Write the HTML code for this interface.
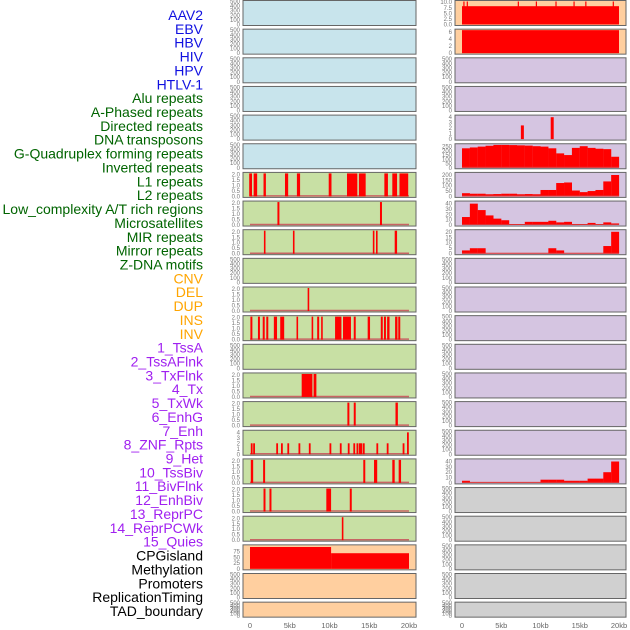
<!DOCTYPE html>
<html><head><meta charset="utf-8"><style>
html,body{margin:0;padding:0;background:#fff;}
svg{display:block;font-family:"Liberation Sans",sans-serif;}
</style></head><body>
<svg id="c" width="630" height="630" viewBox="0 0 630 630"></svg>
<script>
const labels=["AAV2","EBV","HBV","HIV","HPV","HTLV-1","Alu repeats","A-Phased repeats","Directed repeats","DNA transposons","G-Quadruplex forming repeats","Inverted repeats","L1 repeats","L2 repeats","Low_complexity A/T rich regions","Microsatellites","MIR repeats","Mirror repeats","Z-DNA motifs","CNV","DEL","DUP","INS","INV","1_TssA","2_TssAFlnk","3_TxFlnk","4_Tx","5_TxWk","6_EnhG","7_Enh","8_ZNF_Rpts","9_Het","10_TssBiv","11_BivFlnk","12_EnhBiv","13_ReprPC","14_ReprPCWk","15_Quies","CPGisland","Methylation","Promoters","ReplicationTiming","TAD_boundary"];
const labelGroups=[6,13,5,15,5];
const groupColors=["#1010e0","#006400","#ffa500","#a020f0","#000000"];
const xTicks=[0,5,10,15,20];
const xTickLabels=["0","5kb","10kb","15kb","20kb"];
const leftIntervals={
6:[[-0.1,0.25],[0.46,0.9],[1.7,2.0],[4.4,4.8],[5.9,6.3],[9.9,10.25],[12.2,13.5],[13.7,14.55],[16.9,17.35],[17.9,18.5],[18.8,19.9]],
7:[[3.45,3.7],[16.35,16.6]],
8:[[1.75,1.95],[5.4,5.6],[15.45,15.65],[15.85,16.05],[18.2,18.5]],
10:[[7.25,7.45]],
11:[[0.05,0.3],[1.0,1.25],[1.6,1.85],[2.05,2.3],[3.0,3.4],[3.8,4.3],[5.85,6.05],[7.75,7.95],[8.45,8.7],[8.95,9.15],[10.7,11.5],[11.7,12.7],[13.05,13.3],[14.8,15.1],[16.45,16.7],[16.85,17.1],[17.25,17.55],[18.25,18.55],[18.65,18.9]],
13:[[6.5,7.85],[8.0,8.35]],
14:[[12.25,12.5],[13.05,13.3],[18.3,18.6]],
16:[[0.1,0.4],[1.65,1.9],[14.25,14.5],[15.6,16.0],[17.9,18.2],[18.7,19.0]],
17:[[1.7,1.95],[2.45,2.7],[9.6,10.2],[12.55,12.8]],
18:[[11.55,11.75]]};
const row15Pos=[0.1,0.4,3.3,3.9,4.7,6.1,7.4,10.0,11.3,12.3,13.0,13.4,13.7,13.9,14.2,15.9,17.2,19.2,19.75];
const row15Val=[2,2,2,2,2,2,2,2,2,2,2,2,2,2,2,2,2,2,4];
const cpgStarts=[0,10.2];
const cpgEnds=[10.2,20];
const cpgVals=[95,68];
const gquadBins=[230,240,250,260,270,270,268,265,262,255,250,230,170,150,235,255,235,225,220,130,70,20];
const l1Bins=[30,25,25,20,22,25,25,20,22,20,60,60,125,130,55,40,50,60,140,200];
const lowBins=[15,40,28,18,12,9,0,0,6,6,6,8,5,6,2,0,4,0,5,3];
const microBins=[3,5,5,0,0,0,0,0,0,0,0,5,3,0,0,0,0,0,7,20];
const tssBivBins=[4,0,0,0,0,0,0,0,0,0,6,6,6,4,4,4,8,8,20,40];
const aavSpikes=[0.17,0.6,7.1,9.4,11.9,14.2,15.7,19.2];
const directedSpikes=[7.5,11.3];
const directedVals=[2.5,4];

const svg=document.getElementById('c');const NS="http://www.w3.org/2000/svg";
function el(t,a,p){const e=document.createElementNS(NS,t);for(const k in a)e.setAttribute(k,a[k]);(p||svg).appendChild(e);return e;}
let idx=0;
labelGroups.forEach((n,g)=>{for(let i=0;i<n;i++){if(idx>=labels.length)return;const t=el('text',{x:203,y:20+idx*13.86,'text-anchor':'end','font-size':14,fill:groupColors[g]});t.textContent=labels[idx];

idx++;}});
const LX0=243,LX1=416,RX0=455,RX1=626;
const lx=kb=>250+kb*7.95, rx=kb=>462+kb*7.85;
function rowTop(i){return 0.5+i*28.65;}
function rowH(i){return i==21?15:25;}
const leftBg=i=>i<6?"#c8e4ec":(i<19?"#c8e0a4":"#ffcf9f");
const rightBg=i=>i<2?"#ffcf9f":(i<17?"#d5c5e1":"#d0d0d0");
function ticks(x,top,h,max,vals,fmt){vals.forEach(v=>{const y=top+h-1-(v/max)*(h-2);const t=el('text',{x:x-3,y:y+2,'text-anchor':'end','font-size':6,fill:'#777'});t.textContent=fmt?v.toFixed(1):v;});}
const def=[0,100,200,300,400,500];
for(let i=0;i<22;i++){
 const top=rowTop(i),h=rowH(i);
 let r=el('rect',{x:LX0,y:top,width:LX1-LX0,height:h,fill:leftBg(i),stroke:'#666','stroke-width':1});
 
 r=el('rect',{x:RX0,y:top,width:RX1-RX0,height:h,fill:rightBg(i),stroke:'#666','stroke-width':1});
 
 if(i>=6&&i<=18&&i!=9&&i!=12){
  if(i==15) ticks(LX0,top,h,4.2,[0,1,2,3,4]); else ticks(LX0,top,h,2.1,[0,0.5,1,1.5,2],true);
  el('line',{x1:lx(0),x2:lx(20),y1:top+h-1.5,y2:top+h-1.5,stroke:'#c86464','stroke-width':1.5});
 } else if(i==19){ticks(LX0,top,h,100,[0,25,50,75]);}
 else ticks(LX0,top,h,500,def);
 if(i==0)ticks(RX0,top,h,10.3,[0,2.5,5,7.5,10],true);
 else if(i==1)ticks(RX0,top,h,6.6,[0,2,4,6]);
 else if(i==4)ticks(RX0,top,h,4.2,[0,1,2,3,4]);
 else if(i==5)ticks(RX0,top,h,272,[0,50,100,150,200,250]);
 else if(i==6)ticks(RX0,top,h,215,[0,50,100,150,200]);
 else if(i==7||i==16)ticks(RX0,top,h,43,[0,10,20,30,40]);
 else if(i==8)ticks(RX0,top,h,21,[0,5,10,15,20]);
 else ticks(RX0,top,h,500,def);
 if(leftIntervals[i]){leftIntervals[i].forEach(([a,b])=>{const m=el('rect',{x:lx(a),y:top+1,width:Math.max(1.5,lx(b)-lx(a)),height:h-2,fill:'#ff0000'});
  
  });}
}
{const top=rowTop(15),h=25;row15Pos.forEach((p,k)=>{const v=row15Val[k];const hh=(v/4.2)*(h-2);const m=el('rect',{x:lx(p),y:top+h-1-hh,width:1.8,height:hh,fill:'#ff0000'});

});}
{const top=rowTop(19),h=25;cpgVals.forEach((v,k)=>{const hh=(v/100)*(h-2);const m=el('rect',{x:lx(cpgStarts[k]),y:top+h-1-hh,width:lx(cpgEnds[k])-lx(cpgStarts[k]),height:hh,fill:'#ff0000'});

});}
function bins(row,arr,max){const top=rowTop(row),h=25;arr.forEach((v,k)=>{if(k>=20||v<=0)return;const hh=(v/max)*(h-2);const m=el('rect',{x:rx(k),y:top+h-1-hh,width:7.95,height:hh,fill:'#ff0000'});

});
el('line',{x1:rx(0),x2:rx(20),y1:top+h-1.5,y2:top+h-1.5,stroke:'#e03030','stroke-width':1});}
bins(5,gquadBins,272);bins(6,l1Bins,215);bins(7,lowBins,43);bins(8,microBins,21);bins(16,tssBivBins,43);
{let top=rowTop(0),h=25;let hh=(8.2/10.3)*(h-2);let m=el('rect',{x:rx(0),y:top+h-1-hh,width:rx(20)-rx(0),height:hh,fill:'#ff0000'});

aavSpikes.forEach(p=>{const m2=el('rect',{x:rx(p),y:top+1,width:1.2,height:h-2,fill:'#ff0000'});

});
top=rowTop(1);m=el('rect',{x:rx(0),y:top+1,width:rx(20)-rx(0),height:h-2,fill:'#ff0000'});

top=rowTop(4);directedSpikes.forEach((p,k)=>{const hh2=(directedVals[k]/4.2)*(h-2);const m3=el('rect',{x:rx(p),y:top+h-1-hh2,width:3,height:hh2,fill:'#ff0000'});

});}
xTicks.forEach((v,k)=>{[[lx,'left'],[rx,'right']].forEach(([f,s])=>{const t=el('text',{x:f(v),y:628,'text-anchor':'middle','font-size':7.5,fill:'#666'});t.textContent=xTickLabels[k];

});});
</script>
</body></html>
